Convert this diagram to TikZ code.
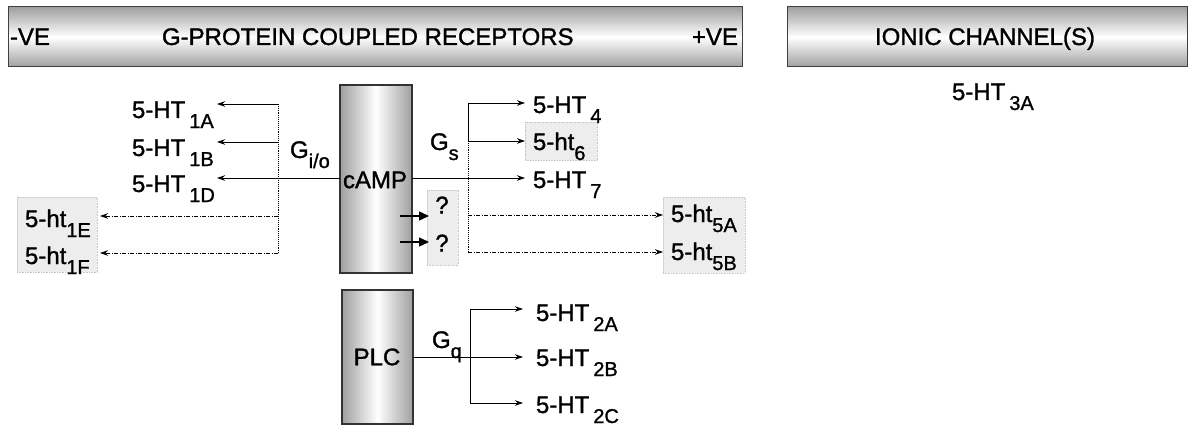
\documentclass[tikz,border=0pt]{standalone}
\usepackage{fontspec}
\setmainfont[FakeBold=1.2]{Liberation Sans}
\usetikzlibrary{arrows.meta}
\newcommand\subx[1]{\raisebox{-10pt}{\fontsize{20}{20}\selectfont #1}}
\begin{document}
\begin{tikzpicture}[x=1pt,y=-1pt,
  txt/.style={font=\fontsize{24}{26}\selectfont, inner sep=0pt, outer sep=0pt},
  hdr/.style={top color=gray!75, bottom color=gray!75, middle color=white, draw=black!75, line width=1pt, inner sep=0pt, outer sep=0pt},
  col/.style={left color=gray!75, right color=gray!75, middle color=white, draw=black!80, line width=1.2pt, inner sep=0pt, outer sep=0pt},
  shbox/.style={fill=gray!14, draw=gray!45, densely dotted, line width=0.6pt, inner sep=0pt},
  arr/.style={-{Stealth[length=8pt,width=5.5pt]}, line width=0.9pt},
  darr/.style={arr, dash pattern=on 4pt off 1.5pt on 1pt off 1.5pt},
  vline/.style={line width=0.9pt},
  dvline/.style={line width=0.9pt, densely dotted},
  barr/.style={-{Triangle[length=10pt,width=9pt]}, line width=1.3pt}
]
\useasboundingbox (0,0) rectangle (1194,425);
% headers
\node[hdr, minimum width=734pt, minimum height=60pt] (hdrL) at (375,37) {};
\node[hdr, minimum width=400pt, minimum height=60pt] (hdrR) at (987,37) {};
\node[txt, anchor=base west] (neg) at (10,45) {-VE};
\node[txt, anchor=base west] (gpcr) at (162,45) {G-PROTEIN COUPLED RECEPTORS};
\node[txt, anchor=base east] (pos) at (738,45) {+VE};
\node[txt, anchor=base] (ionic) at (985,45) {IONIC CHANNEL(S)};
\node[txt, anchor=base west] (ht3a) at (952,100) {5-HT\,\subx{3A}};
% shaded label boxes
\node[shbox, minimum width=80pt, minimum height=75pt] (boxE) at (57,234.5) {};
\node[shbox, minimum width=72pt, minimum height=38pt] (box6) at (561,141) {};
\node[shbox, minimum width=82pt, minimum height=76pt] (box5) at (704,235) {};
\node[shbox, minimum width=31pt, minimum height=75pt] (boxQ) at (442.5,227.5) {};
% columns
\node[col, minimum width=72pt, minimum height=188pt] (camp) at (376,179) {};
\node[col, minimum width=71pt, minimum height=134pt] (plc) at (377.5,357) {};
\node[txt] (camptxt) at (375,180) {cAMP};
\node[txt] (plctxt) at (377,357) {PLC};
% G labels
\node[txt, anchor=base west] (gio) at (290,158) {G\subx{i/o}};
\node[txt, anchor=base west] (gs) at (430,150) {G\subx{s}};
\node[txt, anchor=base west] (gq) at (432,348) {G\subx{q}};
% left labels
\node[txt, anchor=base west] (l1A) at (132,118) {5-HT\,\subx{1A}};
\node[txt, anchor=base west] (l1B) at (132,156) {5-HT\,\subx{1B}};
\node[txt, anchor=base west] (l1D) at (132,192) {5-HT\,\subx{1D}};
\node[txt, anchor=base west] (l1E) at (25,227) {5-ht\subx{1E}};
\node[txt, anchor=base west] (l1F) at (25,264) {5-ht\subx{1F}};
% right labels
\node[txt, anchor=base west] (r4) at (533,113) {5-HT\,\subx{4}};
\node[txt, anchor=base west] (r6) at (533,150) {5-ht\subx{6}};
\node[txt, anchor=base west] (r7) at (533,188) {5-HT\,\subx{7}};
\node[txt, anchor=base west] (r5A) at (671,222) {5-ht\subx{5A}};
\node[txt, anchor=base west] (r5B) at (671,260) {5-ht\subx{5B}};
\node[txt, anchor=base west] (r2A) at (536,321) {5-HT\,\subx{2A}};
\node[txt, anchor=base west] (r2B) at (536,366) {5-HT\,\subx{2B}};
\node[txt, anchor=base west] (r2C) at (536,413) {5-HT\,\subx{2C}};
\node[txt] (q1) at (442,205) {?};
\node[txt] (q2) at (442,243) {?};
% coordinates: left tree
\coordinate (jA) at (278,104);
\coordinate (jB) at (278,142);
\coordinate (jE) at (278,216);
\coordinate (jF) at (278,253);
\coordinate (tA) at (217,104);
\coordinate (tB) at (217,142);
\coordinate (tD) at (217,178);
\coordinate (tE) at (100,216);
\coordinate (tF) at (100,253);
\draw[dvline] (jA) -- (jF);
\draw[arr] (jA) -- (tA);
\draw[arr] (jB) -- (tB);
\draw[arr] (camp.west |- tD) -- (tD);
\draw[darr] (jE) -- (tE);
\draw[darr] (jF) -- (tF);
% right tree
\coordinate (k4) at (468,103);
\coordinate (k6) at (468,141);
\coordinate (k5A) at (468,215);
\coordinate (k5B) at (468,252);
\coordinate (s4) at (525,103);
\coordinate (s6) at (525,141);
\coordinate (s7) at (525,178);
\coordinate (s5A) at (663,215);
\coordinate (s5B) at (663,252);
\draw[vline] (k4) -- (k6);
\draw[dvline] (k6) -- (k5B);
\draw[arr] (k4) -- (s4);
\draw[arr] (k6) -- (s6);
\draw[arr] (camp.east |- s7) -- (s7);
\draw[darr] (k5A) -- (s5A);
\draw[darr] (k5B) -- (s5B);
% question arrows
\coordinate (qa) at (400,216);
\coordinate (qb) at (400,242);
\coordinate (qat) at (429,216);
\coordinate (qbt) at (429,242);
\draw[barr] (qa) -- (qat);
\draw[barr] (qb) -- (qbt);
% PLC tree
\coordinate (m2A) at (470,309);
\coordinate (m2C) at (470,403);
\coordinate (u2A) at (523,309);
\coordinate (u2B) at (523,357);
\coordinate (u2C) at (523,403);
\draw[vline] (m2A) -- (m2C);
\draw[arr] (m2A) -- (u2A);
\draw[arr] (plc.east |- u2B) -- (u2B);
\draw[arr] (m2C) -- (u2C);
\end{tikzpicture}
\end{document}
